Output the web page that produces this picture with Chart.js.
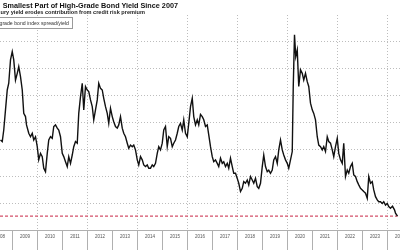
<!DOCTYPE html>
<html>
<head>
<meta charset="utf-8">
<script src="https://cdn.jsdelivr.net/npm/chart.js@4.4.0/dist/chart.umd.min.js"></script>
<style>
  html, body { margin: 0; padding: 0; background: #fff; overflow: hidden; }
  #wrap { position: relative; width: 400px; height: 250px; overflow: hidden; font-family: "Liberation Sans", Arial, sans-serif; }
  #wrap canvas { position: absolute; left: 0; top: 0; }
  .txt { position: absolute; white-space: nowrap; line-height: 1; }
  #title { right: 222px; top: 1.5px; font-size: 7.25px; font-weight: bold; color: #111; }
  #sub { right: 255px; top: 9.5px; font-size: 5.6px; font-weight: bold; color: #222; }
  #legend { right: 327px; top: 17px; height: 10px; line-height: 10px; border: 1px solid #9a9a9a; background: #fff; font-size: 5.2px; color: #333; padding: 0 3px; }
</style>
</head>
<body>
<div id="wrap">
  <canvas id="chart" width="400" height="250"></canvas>
  <div class="txt" id="title">Smallest Part of High-Grade Bond Yield Since 2007</div>
  <div class="txt" id="sub">Treasury yield erodes contribution from credit risk premium</div>
  <div class="txt" id="legend">Investment-grade bond index spread/yield</div>
</div>
<script>
// dates as decimal years, values as spread / yield in %
const years = [
  2008.52, 2008.59, 2008.65, 2008.72, 2008.79, 2008.85, 2008.92, 2008.99, 2009.05, 2009.12,
  2009.19, 2009.25, 2009.32, 2009.39, 2009.45, 2009.52, 2009.56, 2009.65, 2009.72, 2009.79,
  2009.85, 2009.92, 2009.99, 2010.05, 2010.12, 2010.19, 2010.25, 2010.32, 2010.39, 2010.45,
  2010.52, 2010.59, 2010.65, 2010.72, 2010.79, 2010.85, 2010.92, 2010.99, 2011.05, 2011.12,
  2011.19, 2011.25, 2011.32, 2011.39, 2011.45, 2011.52, 2011.59, 2011.65, 2011.72, 2011.79,
  2011.85, 2011.92, 2011.99, 2012.05, 2012.12, 2012.19, 2012.25, 2012.32, 2012.39, 2012.45,
  2012.52, 2012.59, 2012.65, 2012.72, 2012.79, 2012.85, 2012.92, 2012.99, 2013.05, 2013.12,
  2013.19, 2013.25, 2013.32, 2013.39, 2013.45, 2013.52, 2013.59, 2013.65, 2013.72, 2013.79,
  2013.85, 2013.92, 2013.99, 2014.05, 2014.12, 2014.19, 2014.25, 2014.32, 2014.39, 2014.45,
  2014.52, 2014.59, 2014.65, 2014.72, 2014.79, 2014.85, 2014.92, 2014.99, 2015.05, 2015.12,
  2015.19, 2015.25, 2015.32, 2015.39, 2015.45, 2015.52, 2015.59, 2015.65, 2015.72, 2015.79,
  2015.85, 2015.92, 2015.99, 2016.05, 2016.12, 2016.19, 2016.25, 2016.32, 2016.39, 2016.45,
  2016.52, 2016.59, 2016.65, 2016.72, 2016.79, 2016.85, 2016.92, 2016.99, 2017.05, 2017.12,
  2017.19, 2017.25, 2017.32, 2017.39, 2017.45, 2017.52, 2017.59, 2017.65, 2017.72, 2017.79,
  2017.85, 2017.92, 2017.99, 2018.05, 2018.12, 2018.19, 2018.25, 2018.32, 2018.39, 2018.45,
  2018.52, 2018.59, 2018.65, 2018.72, 2018.79, 2018.85, 2018.92, 2018.99, 2019.05, 2019.12,
  2019.19, 2019.25, 2019.32, 2019.39, 2019.45, 2019.52, 2019.59, 2019.65, 2019.72, 2019.79,
  2019.85, 2019.92, 2019.99, 2020.05, 2020.12, 2020.19, 2020.23, 2020.28, 2020.33, 2020.39,
  2020.45, 2020.52, 2020.59, 2020.65, 2020.72, 2020.79, 2020.85, 2020.92, 2020.99, 2021.05,
  2021.12, 2021.19, 2021.25, 2021.32, 2021.39, 2021.45, 2021.52, 2021.59, 2021.65, 2021.72,
  2021.79, 2021.85, 2021.92, 2021.99, 2022.05, 2022.12, 2022.19, 2022.25, 2022.32, 2022.39,
  2022.45, 2022.52, 2022.59, 2022.65, 2022.72, 2022.79, 2022.85, 2022.92, 2022.99, 2023.05,
  2023.12, 2023.19, 2023.25, 2023.32, 2023.39, 2023.45, 2023.52, 2023.59, 2023.65, 2023.72,
  2023.79, 2023.85, 2023.92, 2023.99, 2024.05, 2024.12, 2024.20, 2024.28, 2024.32, 2024.40
];
const ratio = [
  43.5, 42.9, 47.2, 54.7, 62.1, 64.6, 73.3, 76.4, 73.3, 65.8,
  68.3, 70.8, 67.1, 62.1, 53.4, 52.2, 49.1, 46.0, 44.7, 46.0,
  43.5, 44.7, 41.0, 36.1, 38.5, 37.3, 33.0, 31.7, 38.5, 43.5,
  44.7, 44.1, 48.5, 49.1, 47.9, 47.2, 44.7, 38.5, 37.3, 35.4,
  33.6, 37.3, 34.8, 37.9, 41.0, 42.9, 42.3, 53.4, 59.6, 64.6,
  54.7, 63.4, 62.1, 61.5, 58.4, 55.9, 51.0, 54.7, 58.4, 64.6,
  62.7, 62.1, 59.0, 55.9, 53.4, 49.7, 55.3, 52.2, 50.3, 48.5,
  47.9, 49.1, 52.2, 47.9, 46.0, 44.7, 42.3, 40.4, 41.6, 41.0,
  41.6, 39.8, 36.1, 34.2, 37.3, 36.1, 34.2, 33.6, 34.2, 33.0,
  33.0, 34.2, 33.6, 34.8, 38.5, 41.0, 39.8, 42.3, 47.2, 48.5,
  41.0, 44.7, 44.1, 41.0, 42.3, 43.5, 46.0, 48.5, 49.7, 47.2,
  51.0, 46.0, 44.7, 49.7, 55.9, 59.0, 52.2, 49.1, 51.0, 49.1,
  53.0, 52.2, 51.0, 48.5, 49.1, 45.4, 41.0, 37.3, 35.4, 36.1,
  34.8, 33.6, 36.7, 34.8, 35.4, 33.6, 34.8, 33.0, 36.7, 33.6,
  31.1, 31.1, 29.2, 27.4, 24.3, 25.5, 28.0, 27.4, 28.6, 26.8,
  29.9, 28.6, 27.4, 29.2, 26.1, 25.5, 27.4, 33.6, 37.9, 33.6,
  31.7, 32.3, 31.1, 32.3, 36.1, 37.3, 34.8, 39.8, 43.5, 39.8,
  37.9, 36.1, 34.8, 33.0, 36.1, 39.2, 63.4, 82.6, 74.5, 77.0,
  63.4, 69.6, 68.3, 65.8, 68.3, 65.2, 63.4, 57.2, 54.7, 53.4,
  51.0, 44.7, 41.6, 41.0, 39.8, 41.0, 39.2, 44.7, 42.9, 42.3,
  39.8, 37.3, 41.0, 44.1, 38.5, 36.1, 34.8, 42.3, 29.9, 32.3,
  31.1, 33.6, 34.8, 30.5, 29.9, 28.0, 26.8, 25.5, 24.9, 24.3,
  23.7, 21.8, 29.9, 27.4, 28.0, 24.9, 22.4, 21.2, 20.5, 20.5,
  19.9, 20.5, 19.3, 19.9, 18.7, 18.1, 18.9, 17.5, 16.3, 15.2
];
const tickYears = [2008, 2009, 2010, 2011, 2012, 2013, 2014, 2015, 2016,
  2017, 2018, 2019, 2020, 2021, 2022, 2023, 2024];
const latest = 15.2;

const fontFamily = '"Liberation Sans", Arial, sans-serif';

// labels sit mid-year, separators at each year start
const xTicks = [];
tickYears.forEach(function(y, i) {
  xTicks.push(y + 0.5);
  if (i < tickYears.length - 1) xTicks.push(y + 1);
});

const series = years.map(function(x, i) { return { x: x, y: ratio[i] }; });
const latestLine = [{ x: tickYears[0] + 0.5, y: latest }, { x: years[years.length - 1], y: latest }];

new Chart(document.getElementById('chart'), {
  type: 'line',
  data: {
    datasets: [
      {
        label: 'Investment-grade bond index spread/yield',
        data: series,
        borderColor: '#111',
        borderWidth: 1.4,
        pointRadius: 0,
        tension: 0
      },
      {
        label: 'Latest',
        data: latestLine,
        borderColor: '#d4506a',
        borderWidth: 1.2,
        borderDash: [3, 2],
        pointRadius: 0
      }
    ]
  },
  options: {
    responsive: false,
    animation: false,
    layout: { padding: { top: 15, bottom: 0, left: 0, right: 0 } },
    plugins: { legend: { display: false }, tooltip: { enabled: false } },
    scales: {
      x: {
        type: 'linear',
        min: tickYears[0] + 0.5,
        max: tickYears[tickYears.length - 1] + 0.5,
        afterBuildTicks: function(scale) {
          scale.ticks = xTicks.map(function(v) { return { value: v }; });
        },
        afterFit: function(scale) {
          scale.paddingLeft = 0;
          scale.paddingRight = 0;
          scale.height = 20;
        },
        grid: {
          color: function(c) {
            const v = c.tick ? c.tick.value : 0;
            return (Number.isInteger(v) && v % 2 === 0) ? '#bdbdbd' : 'rgba(0,0,0,0)';
          },
          tickColor: function(c) {
            const v = c.tick ? c.tick.value : 0;
            return Number.isInteger(v) ? '#b0b0b0' : 'rgba(0,0,0,0)';
          },
          tickLength: 20,
          lineWidth: 1
        },
        border: { display: true, color: '#b0b0b0', width: 1, dash: [1, 2] },
        ticks: {
          autoSkip: false,
          maxRotation: 0,
          padding: -16,
          color: '#555',
          font: { size: 4.5, family: fontFamily },
          callback: function(v) { return Number.isInteger(v) ? '' : String(Math.floor(v)); }
        }
      },
      y: {
        min: 10,
        max: 90,
        ticks: { display: false, stepSize: 10 },
        grid: {
          drawTicks: false,
          color: function(c) { return c.tick && c.tick.value >= 90 ? 'rgba(0,0,0,0)' : '#bdbdbd'; }
        },
        border: { display: false, dash: [1, 2] }
      }
    }
  }
});
</script>
</body>
</html>
